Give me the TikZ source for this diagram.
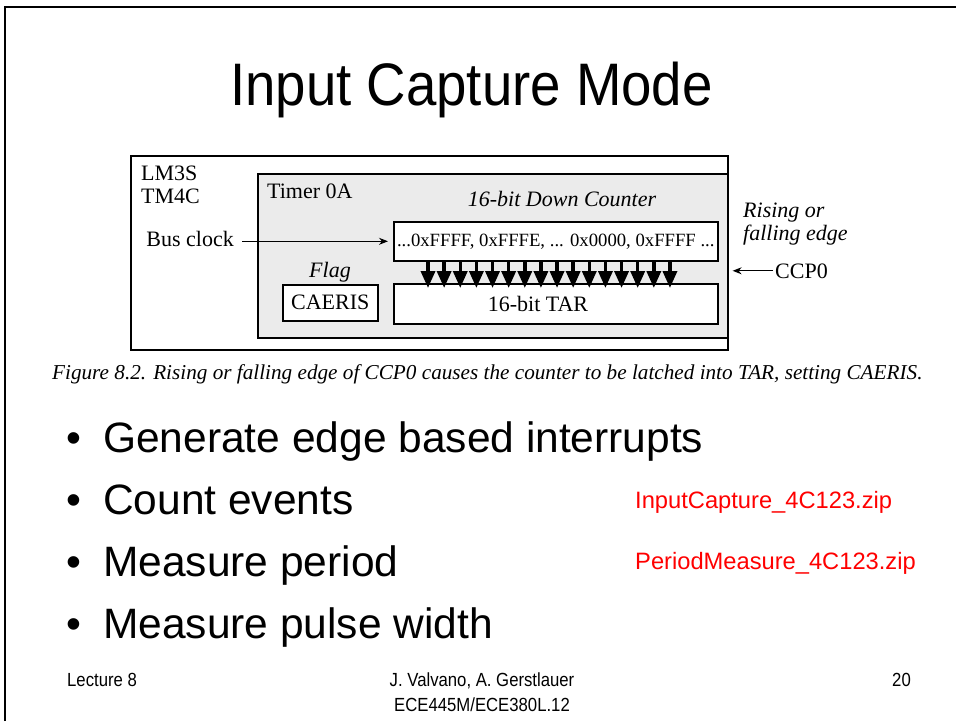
\documentclass[tikz,border=0pt]{standalone}
\usepackage{fontspec}
\setmainfont{Liberation Serif}
\newfontfamily\arialfont{Liberation Sans}
\newfontfamily\titlefont[FakeStretch=0.91]{Liberation Sans}
\newfontfamily\footfont[FakeStretch=0.88]{Liberation Sans}
\usetikzlibrary{arrows.meta}
\definecolor{boxgrey}{HTML}{EBEBEB}
\definecolor{zipred}{HTML}{FF0000}
\tikzset{
  box/.style={draw=black, line width=1.6pt, fill=white, inner sep=0pt, anchor=north west},
  greybox/.style={box, fill=boxgrey},
  dtext/.style={inner sep=0pt, font=\fontsize{22}{26}\selectfont},
  ditext/.style={inner sep=0pt, font=\fontsize{22}{26}\selectfont\itshape},
  thinarrow/.style={line width=1.2pt, -{Stealth[length=9pt,width=7pt]}},
  latcharrow/.style={line width=3.5pt, -{Triangle[length=17pt,width=14pt]}},
  slidetitle/.style={inner sep=0pt, font=\titlefont\fontsize{60}{66}\selectfont},
  bullettext/.style={inner sep=0pt, font=\arialfont\fontsize{42.5}{48}\selectfont, anchor=base west},
  ziptext/.style={inner sep=0pt, font=\arialfont\fontsize{23.7}{28}\selectfont, text=zipred, anchor=base west},
  foot/.style={inner sep=0pt, font=\footfont\fontsize{19}{25}\selectfont},
  captext/.style={inner sep=0pt, font=\fontsize{21.2}{25}\selectfont\itshape, anchor=base west},
  frameline/.style={line width=2.5pt, draw=black},
}
\begin{document}
\begin{tikzpicture}[x=1pt,y=-1pt]
\useasboundingbox (0,0) rectangle (956,721);
% slide frame
\draw[frameline] (5,721) -- (5,7) -- (956,7);
% title
\node[slidetitle, anchor=base] (title) at (471.5,105) {Input Capture Mode};
% diagram boxes
\node[box, minimum width=597pt, minimum height=194pt] (chip) at (130,155) {};
\node[greybox, minimum width=470pt, minimum height=164pt] (timer) at (257,173) {};
\node[box, minimum width=324pt, minimum height=39pt, font=\fontsize{18.7}{22}\selectfont] (counter) at (393,221) {...0xFFFF, 0xFFFE, ... 0x0000, 0xFFFF ...};
\node[box, minimum width=324pt, minimum height=40pt] (tar) at (393,283) {};
\node[box, minimum width=95pt, minimum height=36pt, font=\fontsize{22}{26}\selectfont] (caeris) at (282,284) {CAERIS};
% diagram labels
\node[dtext, anchor=base west] (lm3s) at (141,180) {LM3S};
\node[dtext, anchor=base west] (tm4c) at (141,203) {TM4C};
\node[dtext, anchor=base west] (timerlabel) at (267,198) {Timer 0A};
\node[ditext, anchor=base] (countlabel) at (562,206) {16-bit Down Counter};
\node[dtext, anchor=base east] (bus) at (234,246) {Bus clock};
\node[ditext, anchor=base] (flag) at (330,277) {Flag};
\node[dtext] (tarlabel) at (538,304) {16-bit TAR};
\node[ditext, anchor=base west] (rising) at (743,217) {Rising or};
\node[ditext, anchor=base west] (falling) at (743,240) {falling edge};
\node[dtext, anchor=base west] (ccp) at (775,278) {CCP0};
% connectors
\draw[thinarrow] ([xshift=8pt]bus.east |- counter.west) -- ([xshift=-5pt]counter.west);
\draw[thinarrow, shorten >=4pt] ([xshift=-2pt]ccp.west) -- (timer.east |- ccp.west);
\foreach \i in {0,...,15}
  \draw[latcharrow, shorten >=-5pt] ([xshift={(35+\i*16.13)*1pt}]counter.south west) -- ([xshift={(35+\i*16.13)*1pt}]tar.north west);
% caption
\node[captext] (caption) at (52,379) {Figure 8.2. Rising or falling edge of CCP0 causes the counter to be latched into TAR, setting CAERIS.};
% bullets
\node[bullettext] (d1) at (66,452) {•};
\node[bullettext] (b1) at (103,452) {Generate edge based interrupts};
\node[bullettext] (d2) at (66,514) {•};
\node[bullettext] (b2) at (103,514) {Count events};
\node[bullettext] (d3) at (66,576) {•};
\node[bullettext] (b3) at (103,576) {Measure period};
\node[bullettext] (d4) at (66,638) {•};
\node[bullettext] (b4) at (103,638) {Measure pulse width};
% zip files
\node[ziptext] (zip1) at (635,508) {InputCapture\_4C123.zip};
\node[ziptext] (zip2) at (635,569) {PeriodMeasure\_4C123.zip};
% footer
\node[foot, anchor=base west] (lecture) at (67,686) {Lecture 8};
\node[foot, anchor=base] (authors) at (482,686) {J. Valvano, A. Gerstlauer};
\node[foot, anchor=base] (course) at (482,711) {ECE445M/ECE380L.12};
\node[foot, anchor=base east] (page) at (911,686) {20};
\end{tikzpicture}
\end{document}
